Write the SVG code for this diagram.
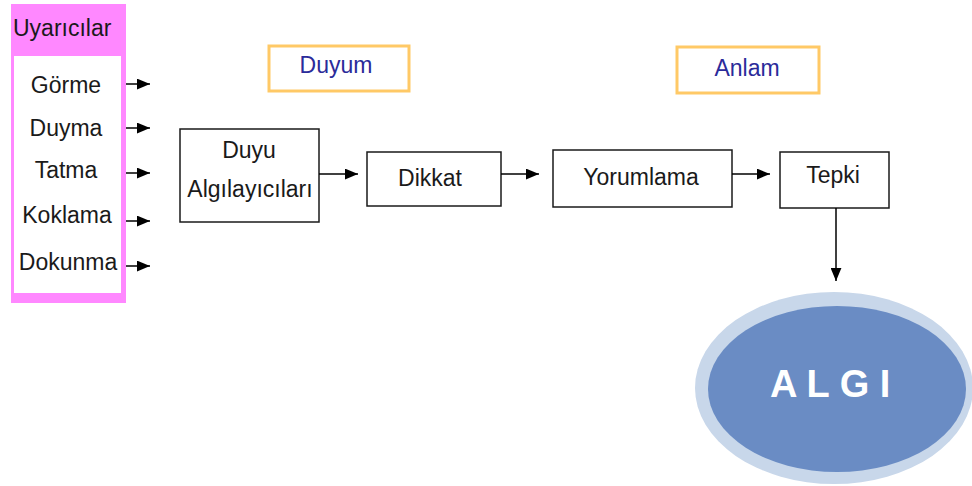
<svg xmlns="http://www.w3.org/2000/svg" width="972" height="486" viewBox="0 0 972 486">
<style>
text{font-family:"Liberation Sans",Arial,Helvetica,sans-serif;font-size:23px;fill:#1a1a1a}
.box{fill:#fff;stroke:#1a1a1a;stroke-width:1.5}
.tag{fill:#fff;stroke:#FFC966;stroke-width:3}
.tagt{fill:#2B2B9A}
.c{text-anchor:middle}
.ln{stroke:#000;stroke-width:1.5;fill:none;marker-end:url(#ah)}
</style>
<defs>
<marker id="ah" viewBox="0 0 12 10" refX="12" refY="5" markerWidth="13" markerHeight="11" markerUnits="userSpaceOnUse" orient="auto">
<path d="M0,0 L12,5 L0,10 z" fill="#000"/>
</marker>
</defs>
<rect width="972" height="486" fill="#fff"/>
<g id="uyaricilar">
<rect x="11" y="4" width="115" height="299" fill="#FF88FF"/>
<rect x="14" y="56" width="107" height="237" fill="#fff"/>
<text x="13" y="36">Uyarıcılar</text>
<text class="c" x="66" y="93">Görme</text>
<text class="c" x="66" y="136">Duyma</text>
<text class="c" x="66" y="178">Tatma</text>
<text class="c" x="67" y="223">Koklama</text>
<text class="c" x="68" y="270">Dokunma</text>
</g>
<g id="duyum">
<rect class="tag" x="269" y="46" width="140" height="45"/>
<text class="c tagt" x="336" y="73">Duyum</text>
</g>
<g id="anlam">
<rect class="tag" x="677" y="47" width="142" height="46"/>
<text class="c tagt" x="747" y="76">Anlam</text>
</g>
<g id="duyu">
<rect class="box" x="180" y="129" width="139" height="93"/>
<text class="c" x="249" y="158">Duyu</text>
<text class="c" x="250" y="197">Algılayıcıları</text>
</g>
<g id="dikkat">
<rect class="box" x="367" y="152" width="134" height="54"/>
<text class="c" x="430" y="186">Dikkat</text>
</g>
<g id="yorumlama">
<rect class="box" x="553" y="150" width="179" height="57"/>
<text class="c" x="641" y="185">Yorumlama</text>
</g>
<g id="tepki">
<rect class="box" x="780" y="152" width="109" height="56"/>
<text class="c" x="833" y="183">Tepki</text>
</g>
<g id="algi">
<ellipse cx="834" cy="388" rx="139" ry="96" fill="#C8D7EA"/>
<ellipse cx="837" cy="389" rx="129" ry="83" fill="#6A8CC4"/>
<text x="770" y="397" style="font-size:38px;font-weight:bold;fill:#fff">A L G I</text>
</g>
<g id="connectors">
<line class="ln" x1="126" y1="84" x2="150" y2="84"/>
<line class="ln" x1="126" y1="128" x2="150" y2="128"/>
<line class="ln" x1="126" y1="173" x2="150" y2="173"/>
<line class="ln" x1="126" y1="221" x2="150" y2="221"/>
<line class="ln" x1="126" y1="266" x2="150" y2="266"/>
<line class="ln" x1="319" y1="174" x2="358" y2="174"/>
<line class="ln" x1="501" y1="174" x2="539" y2="174"/>
<line class="ln" x1="732" y1="174" x2="770" y2="174"/>
<line class="ln" x1="836" y1="208" x2="836" y2="281"/>
</g>
</svg>
